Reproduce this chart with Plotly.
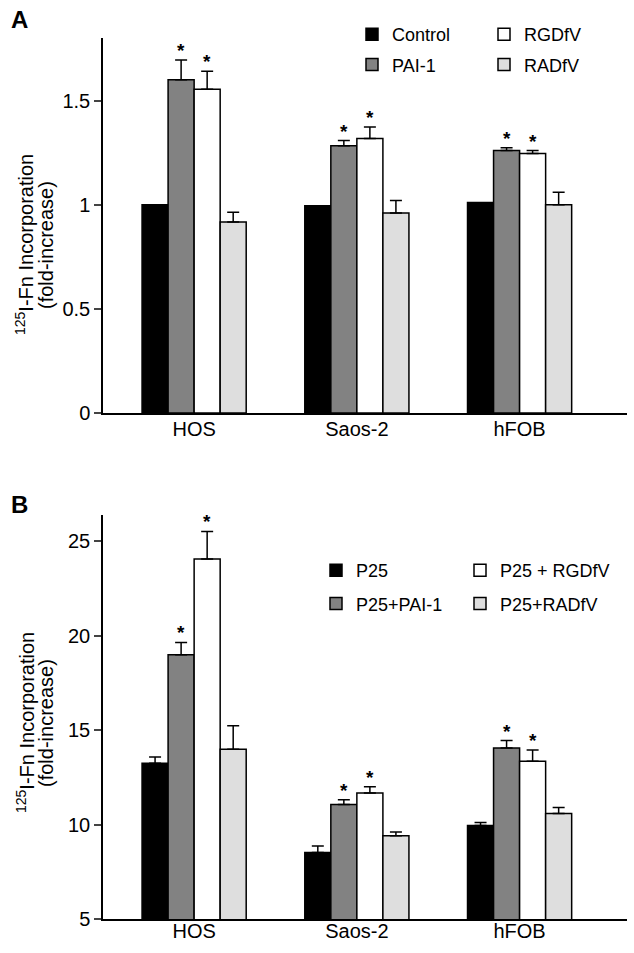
import plotly.graph_objects as go

# ---------------- data ----------------
cells = ["HOS", "Saos-2", "hFOB"]

# Panel A
a_names = ["Control", "PAI-1", "RGDfV", "RADfV"]
a_control = [1.00, 0.995, 1.01]
a_pai1 = [1.60, 1.283, 1.26]
a_rgdfv = [1.554, 1.318, 1.246]
a_radfv = [0.917, 0.96, 1.00]
a_control_err = [0.0, 0.0, 0.0]
a_pai1_err = [0.095, 0.025, 0.013]
a_rgdfv_err = [0.086, 0.055, 0.014]
a_radfv_err = [0.047, 0.06, 0.06]
a_stars = [False, True, True, False]
a_ticks = [0, 0.5, 1, 1.5]
a_ticktext = ["0", "0.5", "1", "1.5"]

# Panel B
b_names = ["P25", "P25+PAI-1", "P25 + RGDfV", "P25+RADfV"]
b_p25 = [13.25, 8.52, 9.95]
b_pai1 = [18.99, 11.07, 14.06]
b_rgdfv = [24.07, 11.67, 13.36]
b_radfv = [13.99, 9.41, 10.59]
b_p25_err = [0.33, 0.34, 0.16]
b_pai1_err = [0.66, 0.24, 0.39]
b_rgdfv_err = [1.46, 0.33, 0.59]
b_radfv_err = [1.25, 0.20, 0.31]
b_stars = [False, True, True, False]
b_ticks = [5, 10, 15, 20, 25]

colors = ["#000000", "#828282", "#ffffff", "#dedede"]

# ---------------- layout helpers ----------------
W, H = 634, 953
ML, MR, MT, MB = 103, 7, 38, 34
PW, PH = W - ML - MR, H - MT - MB
FONT = "Liberation Sans, Arial, Helvetica, sans-serif"
BARGAP = 0.36


def px_x(px):
    return (px - ML) / PW


def px_y(py):
    return (H - MB - py) / PH


fig = go.Figure()

panels = [
    dict(names=a_names, vals=[a_control, a_pai1, a_rgdfv, a_radfv],
         errs=[a_control_err, a_pai1_err, a_rgdfv_err, a_radfv_err],
         stars=a_stars, xa="x", ya="y", legends=["legend", "legend", "legend2", "legend2"]),
    dict(names=b_names, vals=[b_p25, b_pai1, b_rgdfv, b_radfv],
         errs=[b_p25_err, b_pai1_err, b_rgdfv_err, b_radfv_err],
         stars=b_stars, xa="x2", ya="y2", legends=["legend3", "legend3", "legend4", "legend4"]),
]

annotations = []
bw = (1 - BARGAP) / 4
for p in panels:
    for k in range(4):
        has_err = any(e > 0 for e in p["errs"][k])
        fig.add_trace(go.Bar(
            x=cells, y=p["vals"][k], name=p["names"][k],
            xaxis=p["xa"], yaxis=p["ya"], legend=p["legends"][k],
            legendgroup=p["names"][k],
            marker=dict(color=colors[k], line=dict(color="black", width=1.5)),
            error_y=dict(type="data", symmetric=False, array=p["errs"][k],
                         arrayminus=[0] * len(cells), color="black",
                         thickness=1.5, width=6, visible=has_err),
            hoverinfo="skip",
        ))
        if p["stars"][k]:
            for i in range(len(cells)):
                annotations.append(dict(
                    x=i + (k - 1.5) * bw, y=p["vals"][k][i] + p["errs"][k][i],
                    xref=p["xa"], yref=p["ya"], text="<b>*</b>", showarrow=False,
                    yanchor="bottom", font=dict(size=19, color="black", family=FONT),
                    yshift=-3,
                ))

# panel letters
annotations.append(dict(x=px_x(9), y=px_y(4), xref="paper", yref="paper", text="<b>A</b>",
                        showarrow=False, xanchor="left", yanchor="top",
                        font=dict(size=24, color="black", family=FONT)))
annotations.append(dict(x=px_x(9), y=px_y(489), xref="paper", yref="paper", text="<b>B</b>",
                        showarrow=False, xanchor="left", yanchor="top",
                        font=dict(size=24, color="black", family=FONT)))

# y titles (two lines, rotated)
for (cy, l1x, l2x) in [(245, 25, 46), (723, 25, 46)]:
    annotations.append(dict(x=px_x(l1x), y=px_y(cy), xref="paper", yref="paper",
                            text="<sup>125</sup>I-Fn Incorporation", textangle=-90,
                            showarrow=False, xanchor="center", yanchor="middle",
                            font=dict(size=20, color="black", family=FONT)))
    annotations.append(dict(x=px_x(l2x), y=px_y(cy), xref="paper", yref="paper",
                            text="(fold-increase)", textangle=-90,
                            showarrow=False, xanchor="center", yanchor="middle",
                            font=dict(size=20, color="black", family=FONT)))

axis_common = dict(showline=True, linecolor="black", linewidth=1.5, showgrid=False,
                   zeroline=False, tickfont=dict(size=20, color="black", family=FONT))

leg_common = dict(bgcolor="rgba(0,0,0,0)", borderwidth=0, xanchor="left", yanchor="top",
                  font=dict(size=18, color="black", family=FONT), traceorder="grouped",
                  itemclick=False)

fig.update_layout(
    width=W, height=H, margin=dict(l=ML, r=MR, t=MT, b=MB),
    plot_bgcolor="white", paper_bgcolor="white",
    barmode="group", bargap=BARGAP, bargroupgap=0.0,
    font=dict(family=FONT, color="black"),
    xaxis=dict(**axis_common, domain=[0, 1], anchor="y", ticks="", range=[-0.56, 2.66],
               ticklabelstandoff=-3),
    yaxis=dict(**axis_common, domain=[0.5743, 1], anchor="x", range=[0, 1.8],
               tickvals=a_ticks, ticktext=a_ticktext, ticks="outside", ticklen=7, tickwidth=1.5),
    xaxis2=dict(**axis_common, domain=[0, 1], anchor="y2", ticks="", range=[-0.56, 2.66],
                ticklabelstandoff=-7),
    yaxis2=dict(**axis_common, domain=[0, 0.4586], anchor="x2", range=[5, 26.4],
                tickvals=b_ticks, ticks="outside", ticklen=7, tickwidth=1.5),
    legend=dict(**leg_common, x=px_x(352), y=px_y(16), tracegroupgap=4),
    legend2=dict(**leg_common, x=px_x(484), y=px_y(16), tracegroupgap=4),
    legend3=dict(**leg_common, x=px_x(316), y=px_y(552), tracegroupgap=7),
    legend4=dict(**leg_common, x=px_x(460), y=px_y(552), tracegroupgap=7),
    annotations=annotations,
    showlegend=True,
    hovermode=False,
)

fig.write_html("out.html", config={"displayModeBar": False},
               post_script="document.body.style.margin='0px';")
